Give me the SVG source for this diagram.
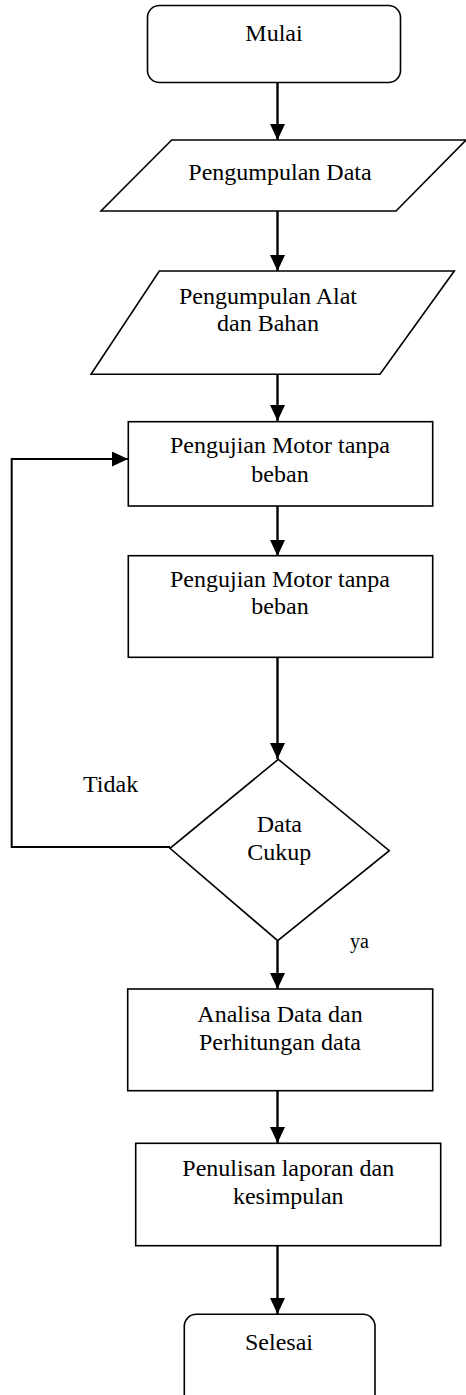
<svg xmlns="http://www.w3.org/2000/svg" width="466" height="1395" viewBox="0 0 466 1395">
<style>
.s{fill:#fff;stroke:#000;stroke-width:1.6}
.c{fill:none;stroke:#000;stroke-width:2.4}
.t{font-family:"Liberation Serif","Times New Roman",serif;font-size:24px;fill:#000;text-anchor:middle}
.l{font-family:"Liberation Serif","Times New Roman",serif;fill:#000}
</style>
<defs>
<marker id="ah" markerUnits="userSpaceOnUse" markerWidth="16" markerHeight="16" refX="16" refY="7.5" orient="auto">
<path d="M0,0 L16,7.5 L0,15 Z" fill="#000"/>
</marker>
</defs>
<rect width="466" height="1395" fill="#fff"/>
<g id="connectors">
<line class="c" x1="277.5" y1="83" x2="277.5" y2="140" marker-end="url(#ah)"/>
<line class="c" x1="277.5" y1="211" x2="277.5" y2="271" marker-end="url(#ah)"/>
<line class="c" x1="277.5" y1="374" x2="277.5" y2="421" marker-end="url(#ah)"/>
<line class="c" x1="277.5" y1="506" x2="277.5" y2="556" marker-end="url(#ah)"/>
<line class="c" x1="277.5" y1="657" x2="277.5" y2="759" marker-end="url(#ah)"/>
<line class="c" x1="277.5" y1="941" x2="277.5" y2="989" marker-end="url(#ah)"/>
<line class="c" x1="277.5" y1="1091" x2="277.5" y2="1143" marker-end="url(#ah)"/>
<line class="c" x1="277.5" y1="1246" x2="277.5" y2="1314" marker-end="url(#ah)"/>
<polyline fill="none" stroke="#000" stroke-width="2" points="170,847 11.7,847 11.7,459 128,459" marker-end="url(#ah)"/>
<text class="l" x="83" y="792" font-size="24">Tidak</text>
<text class="l" x="350" y="948" font-size="20">ya</text>
</g>
<g id="mulai">
<rect class="s" x="147.5" y="5.5" width="253" height="77" rx="12"/>
<text class="t" x="274" y="41">Mulai</text>
</g>
<g id="pengumpulan-data">
<polygon class="s" points="171.7,140 466,140 396,211 101,211"/>
<text class="t" x="280" y="180">Pengumpulan Data</text>
</g>
<g id="pengumpulan-alat">
<polygon class="s" points="159.3,271 454.3,271 380,374.3 91,374.3"/>
<text class="t" x="268" y="304">Pengumpulan Alat</text>
<text class="t" x="268" y="331">dan Bahan</text>
</g>
<g id="pengujian-1">
<rect class="s" x="128.3" y="421.7" width="304.4" height="84.3"/>
<text class="t" x="280" y="453">Pengujian Motor tanpa</text>
<text class="t" x="280" y="481.5">beban</text>
</g>
<g id="pengujian-2">
<rect class="s" x="128.3" y="555.7" width="304.4" height="101.6"/>
<text class="t" x="280" y="587">Pengujian Motor tanpa</text>
<text class="t" x="280" y="614">beban</text>
</g>
<g id="decision">
<polygon class="s" points="278.3,759.3 389.3,850.7 277.7,940.7 170,848.3"/>
<text class="t" x="279.3" y="831.5">Data</text>
<text class="t" x="279.3" y="860">Cukup</text>
</g>
<g id="analisa">
<rect class="s" x="127.7" y="989" width="305" height="101.7"/>
<text class="t" x="280" y="1021.5">Analisa Data dan</text>
<text class="t" x="280" y="1050">Perhitungan data</text>
</g>
<g id="penulisan">
<rect class="s" x="135.7" y="1143.3" width="305" height="102.4"/>
<text class="t" x="288.3" y="1175.5">Penulisan laporan dan</text>
<text class="t" x="288.3" y="1204">kesimpulan</text>
</g>
<g id="selesai">
<rect class="s" x="184.3" y="1314.3" width="190.7" height="95" rx="12"/>
<text class="t" x="279" y="1350">Selesai</text>
</g>
</svg>
